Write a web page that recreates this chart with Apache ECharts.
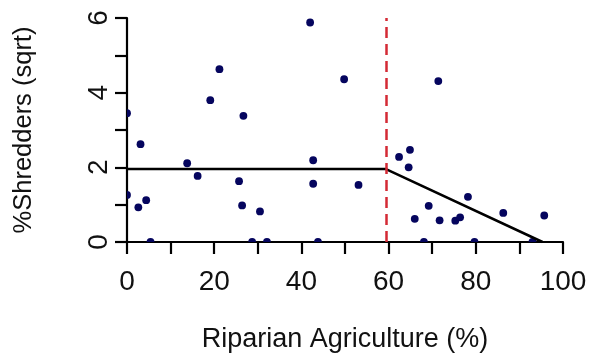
<!DOCTYPE html>
<html>
<head>
<meta charset="utf-8">
<script src="https://cdn.jsdelivr.net/npm/echarts@6/dist/echarts.min.js"></script>
<style>
  html, body { margin: 0; padding: 0; background: #ffffff; }
  #chart { width: 600px; height: 358px; }
</style>
</head>
<body>
<div id="chart"></div>
<script>
// Riparian agriculture (%) for each site
var agricultureX = [
  0, 3.1, 21.2, 19.1, 26.7, 13.8, 16.2, 25.7, 26.4, 30.5, 0, 2.6, 4.4,
  42.0, 49.8, 71.4, 42.7, 42.7, 53.1, 62.4, 64.9, 64.6, 78.2, 69.2, 66.0,
  71.7, 75.3, 76.4, 86.3, 95.7,
  5.4, 28.7, 32.1, 43.8, 68.1, 79.7, 93.0
];
// Square-root transformed % shredders for each site
var shreddersY = [
  3.45, 2.62, 4.63, 3.80, 3.38, 2.11, 1.77, 1.63, 0.98, 0.82, 1.26, 0.93, 1.12,
  5.88, 4.36, 4.31, 2.19, 1.56, 1.53, 2.28, 2.47, 2.00, 1.21, 0.97, 0.62,
  0.58, 0.57, 0.66, 0.78, 0.71,
  0, 0, 0, 0, 0, 0, 0
];

// Piecewise (threshold) fit: flat, then declining after the breakpoint
var fitX = [0, 59.4, 95.3];
var fitY = [1.955, 1.955, 0];
var breakpoint = 59.4;

var xTicks = [0, 20, 40, 60, 80, 100];
var yTicks = [0, 2, 4, 6];

var points = agricultureX.map(function (x, i) { return [x, shreddersY[i]]; });
var fitLine = fitX.map(function (x, i) { return [x, fitY[i]]; });

var font = "'Liberation Sans', Arial, sans-serif";
var textColor = '#111111';
var dotColor = '#05055e';

var chart = echarts.init(document.getElementById('chart'), null, { renderer: 'canvas' });
chart.setOption({
  animation: false,
  backgroundColor: '#ffffff',
  grid: { left: 127, right: 37, top: 18, bottom: 116, containLabel: false },
  xAxis: {
    type: 'value',
    min: 0, max: 100, interval: 10,
    name: 'Riparian Agriculture (%)',
    nameLocation: 'middle',
    nameGap: 84,
    nameTextStyle: { fontFamily: font, fontSize: 27, color: textColor },
    splitLine: { show: false },
    axisLine: { show: true, onZero: false, lineStyle: { color: '#000', width: 2.2 } },
    axisTick: { show: true, length: 12, lineStyle: { color: '#000', width: 2.2 } },
    axisLabel: {
      margin: 26,
      fontFamily: font, fontSize: 28, color: textColor,
      formatter: function (v) { return xTicks.indexOf(v) >= 0 ? String(v) : ''; }
    }
  },
  yAxis: {
    type: 'value',
    min: 0, max: 6, interval: 1,
    name: '%Shredders (sqrt)',
    nameLocation: 'middle',
    nameGap: 90,
    nameRotate: 90,
    nameTextStyle: { fontFamily: font, fontSize: 25.5, color: textColor },
    splitLine: { show: false },
    axisLine: { show: true, onZero: false, lineStyle: { color: '#000', width: 2.2 } },
    axisTick: { show: true, length: 12, lineStyle: { color: '#000', width: 2.2 } },
    axisLabel: {
      rotate: 90,
      margin: 14,
      fontFamily: font, fontSize: 28, color: textColor,
      formatter: function (v) { return yTicks.indexOf(v) >= 0 ? String(v) : ''; }
    }
  },
  series: [
    {
      // site points, clipped to the plotting region
      type: 'custom',
      data: points,
      encode: { x: 0, y: 1 },
      clip: true,
      z: 3,
      renderItem: function (params, api) {
        var p = api.coord([api.value(0), api.value(1)]);
        return {
          type: 'circle',
          shape: { cx: p[0], cy: p[1], r: 3.9 },
          style: { fill: dotColor }
        };
      }
    },
    {
      type: 'line',
      data: fitLine,
      symbol: 'none',
      lineStyle: { color: '#000', width: 2.5 },
      z: 4,
      markLine: {
        silent: true,
        symbol: 'none',
        label: { show: false },
        lineStyle: { color: '#d42a35', width: 2.5, type: [11, 6] },
        data: [{ xAxis: breakpoint }]
      }
    }
  ]
});
</script>
</body>
</html>
